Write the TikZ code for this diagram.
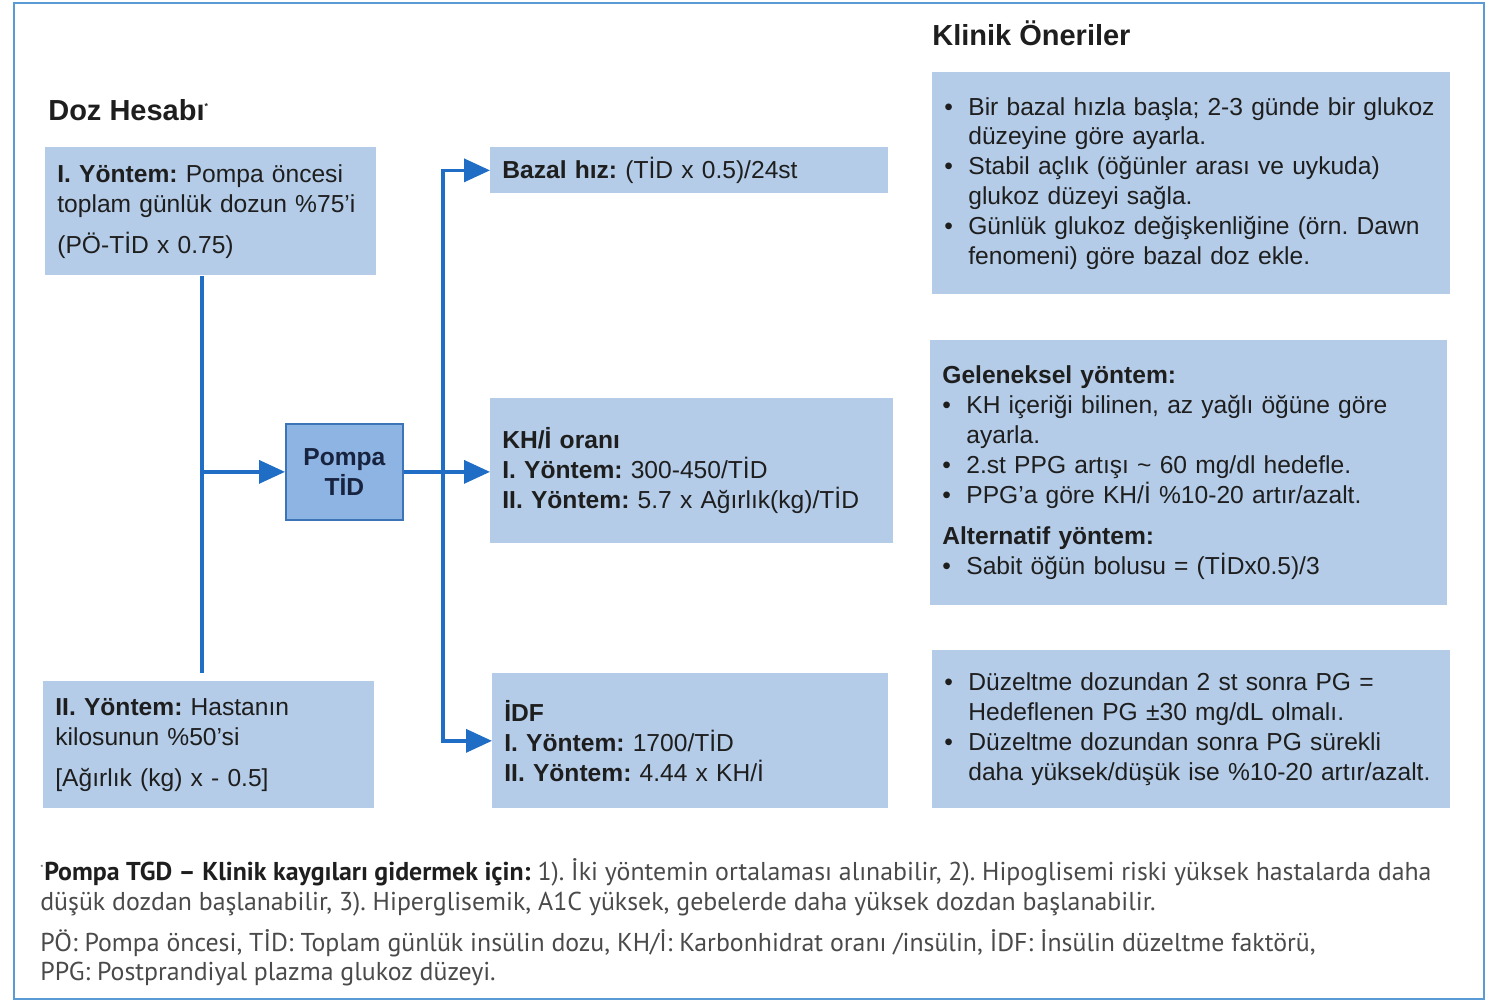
\documentclass[tikz,border=0pt]{standalone}
\usepackage{fontspec}
\setmainfont{Liberation Sans}
\newfontfamily\notefont{PT Sans}
\usetikzlibrary{arrows.meta}
\frenchspacing
\definecolor{boxblue}{HTML}{B4CCE8}
\definecolor{pompablue}{HTML}{8EB4E3}
\definecolor{pompaedge}{HTML}{3D74B8}
\definecolor{pompatext}{HTML}{17233F}
\definecolor{lineblue}{HTML}{1F6DC5}
\definecolor{frameblue}{HTML}{5B9BD5}
\definecolor{txt}{HTML}{1E1E1E}
\definecolor{notegray}{HTML}{4A4A4A}
\newcommand{\itm}{\makebox[0.48cm][l]{\textbullet}}
\newcommand{\ind}{\hspace*{0.48cm}}

\begin{document}
\begin{tikzpicture}[x=0.02cm, y=-0.02cm,
  box/.style = {anchor=north west, fill=boxblue, text=txt, align=left,
    inner xsep=0.24cm, inner ysep=0pt,
    font=\fontsize{14}{17}\selectfont},
  title/.style = {anchor=west, text=txt, inner sep=0pt,
    font=\fontsize{16.5}{20}\selectfont\bfseries},
  line/.style = {draw=lineblue, line width=2pt},
  arr/.style = {line, -{Triangle[length=0.52cm, width=0.46cm]}}]
  \useasboundingbox (0,0) rectangle (1496,1002);
  \draw[frameblue, line width=1.2pt] (14,3) rectangle (1484,999);

  \node[title] (doz) at (48,110) {Doz Hesabı\textsuperscript{\tiny *}};
  \node[title] (klinik) at (932,33) {Klinik Öneriler};

  \node[box, minimum width=6.62cm, minimum height=2.56cm, text width=6.14cm] (y1) at (45,147)
    {\textbf{I. Yöntem:} Pompa öncesi\\toplam günlük dozun \%75’i\\[0.22cm](PÖ-TİD x 0.75)};
  \node[box, minimum width=6.62cm, minimum height=2.54cm, text width=6.14cm] (y2) at (43,681)
    {\textbf{II. Yöntem:} Hastanın\\kilosunun \%50’si\\[0.22cm]{}[Ağırlık (kg) x - 0.5]};
  \node[anchor=north west, fill=pompablue, draw=pompaedge, line width=1pt,
    minimum width=2.34cm, minimum height=1.92cm, align=center, text=pompatext,
    font=\fontsize{14}{17}\selectfont\bfseries] (pompa) at (285,423) {Pompa\\TİD};

  \node[box, minimum width=7.96cm, minimum height=0.92cm, text width=7.48cm] (bazal) at (490,147)
    {\textbf{Bazal hız:} (TİD x 0.5)/24st};
  \node[box, minimum width=8.06cm, minimum height=2.9cm, text width=7.58cm] (khi) at (490,398)
    {\textbf{KH/İ oranı}\\\textbf{I. Yöntem:} 300-450/TİD\\\textbf{II. Yöntem:} 5.7 x Ağırlık(kg)/TİD};
  \node[box, minimum width=7.92cm, minimum height=2.7cm, text width=7.44cm] (idf) at (492,673)
    {\textbf{İDF}\\\textbf{I. Yöntem:} 1700/TİD\\\textbf{II. Yöntem:} 4.44 x KH/İ};

  \node[box, minimum width=10.36cm, minimum height=4.44cm, text width=9.88cm] (oneri1) at (932,72)
    {\itm Bir bazal hızla başla; 2-3 günde bir glukoz\\\ind düzeyine göre ayarla.\\
     \itm Stabil açlık (öğünler arası ve uykuda)\\\ind glukoz düzeyi sağla.\\
     \itm Günlük glukoz değişkenliğine (örn. Dawn\\\ind fenomeni) göre bazal doz ekle.};
  \node[box, minimum width=10.34cm, minimum height=5.3cm, text width=9.86cm] (oneri2) at (930,340)
    {\textbf{Geleneksel yöntem:}\\\itm KH içeriği bilinen, az yağlı öğüne göre\\\ind ayarla.\\
     \itm 2.st PPG artışı \textasciitilde{} 60 mg/dl hedefle.\\\itm PPG’a göre KH/İ \%10-20 artır/azalt.\\[0.24cm]
     \textbf{Alternatif yöntem:}\\\itm Sabit öğün bolusu = (TİDx0.5)/3};
  \node[box, minimum width=10.36cm, minimum height=3.16cm, text width=9.88cm] (oneri3) at (932,650)
    {\itm Düzeltme dozundan 2 st sonra PG =\\\ind Hedeflenen PG ±30 mg/dL  olmalı.\\
     \itm Düzeltme dozundan sonra PG sürekli\\\ind daha yüksek/düşük ise \%10-20 artır/azalt.};

  \node[anchor=north west, align=left, text=notegray, inner sep=0pt,
    font=\notefont\fontsize{14.7}{17}\selectfont] (dipnot) at (40,858)
    {\textsuperscript{\tiny *}\textbf{\color{txt}Pompa TGD – Klinik kaygıları gidermek için:} 1). İki yöntemin ortalaması alınabilir, 2). Hipoglisemi riski yüksek hastalarda daha\\
     düşük dozdan başlanabilir, 3). Hiperglisemik, A1C yüksek, gebelerde daha yüksek dozdan başlanabilir.\\[0.22cm]
     PÖ: Pompa öncesi, TİD: Toplam günlük insülin dozu, KH/İ: Karbonhidrat oranı /insülin, İDF: İnsülin düzeltme faktörü,\\
     PPG: Postprandiyal plazma glukoz düzeyi.};

  \coordinate (jl) at (202,475);
  \coordinate (jr) at (443,475);
  \draw[line] (jl |- y1.south) -- ([yshift=0.16cm]jl |- y2.north);
  \draw[arr] (jl |- pompa.west) -- (pompa.west);
  \draw[arr] (pompa.east) -- (pompa.east -| khi.west);
  \draw[arr] (jr |- pompa.east) |- (bazal.west);
  \draw[arr] (jr |- pompa.east) |- (idf.west);
\end{tikzpicture}
\end{document}
